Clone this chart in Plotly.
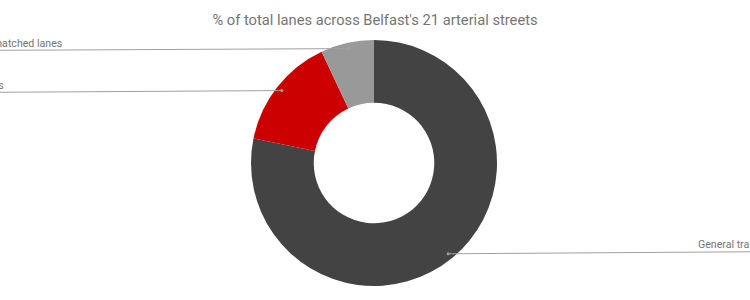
import math
import plotly.graph_objects as go

labels = ["General traffic", "Bus lanes", "Cross-hatched lanes"]
values = [78.2, 14.8, 7.0]
colors = ["#434343", "#cc0000", "#999999"]
title = "% of total lanes across Belfast's 21 arterial streets"

W, H = 750, 300
cx, cy, R = 374, 163, 123  # pie centre and radius in px
hole = 0.49
line_col = "#a0a0a0"
txt_font = dict(family="Roboto", size=10.6, color="#757575")

fig = go.Figure(go.Pie(
    labels=labels, values=values, sort=False, direction="clockwise", rotation=0,
    hole=hole, textinfo="none", hoverinfo="label+percent",
    marker=dict(colors=colors, line=dict(width=0)),
    domain=dict(x=[(cx - R) / W, (cx + R) / W], y=[(H - cy - R) / H, (H - cy + R) / H]),
    showlegend=False,
))

# right-end (left labels) / left-start (right labels) of label text, in px
label_edge = {"General traffic": 697, "Bus lanes": 5, "Cross-hatched lanes": 63}

shapes, annotations = [], []
total = sum(values)
cum = 0.0
for lab, v in zip(labels, values):
    mid = (cum + v / 2) / total * 2 * math.pi
    cum += v
    r = 0.953 * R
    px = cx + r * math.sin(mid)
    py = cy - r * math.cos(mid)
    right = math.sin(mid) > 0
    x_end = W if right else 0
    y_end = py - 2 if right else py + 1.7
    shapes.append(dict(type="line", xref="paper", yref="paper",
                       x0=px / W, y0=1 - py / H, x1=x_end / W, y1=1 - y_end / H,
                       line=dict(color=line_col, width=1)))
    shapes.append(dict(type="circle", xref="paper", yref="paper",
                       x0=(px - 1.5) / W, x1=(px + 1.5) / W, y0=1 - (py + 1.5) / H, y1=1 - (py - 1.5) / H,
                       line=dict(width=0), fillcolor=line_col))
    annotations.append(dict(text=lab, xref="paper", yref="paper",
                            x=label_edge[lab] / W, y=1 - (y_end - 7) / H,
                            xanchor="left" if right else "right", yanchor="middle",
                            showarrow=False, borderpad=0, font=txt_font))

fig.update_layout(
    width=W, height=H, margin=dict(l=0, r=0, t=0, b=0),
    paper_bgcolor="white", plot_bgcolor="white",
    title=dict(text=title, x=0.5, xanchor="center", y=1 - 20 / H, yanchor="middle",
               font=dict(family="Roboto", size=14.7, color="#757575")),
    shapes=shapes, annotations=annotations,
)
fig.write_html("out.html")
